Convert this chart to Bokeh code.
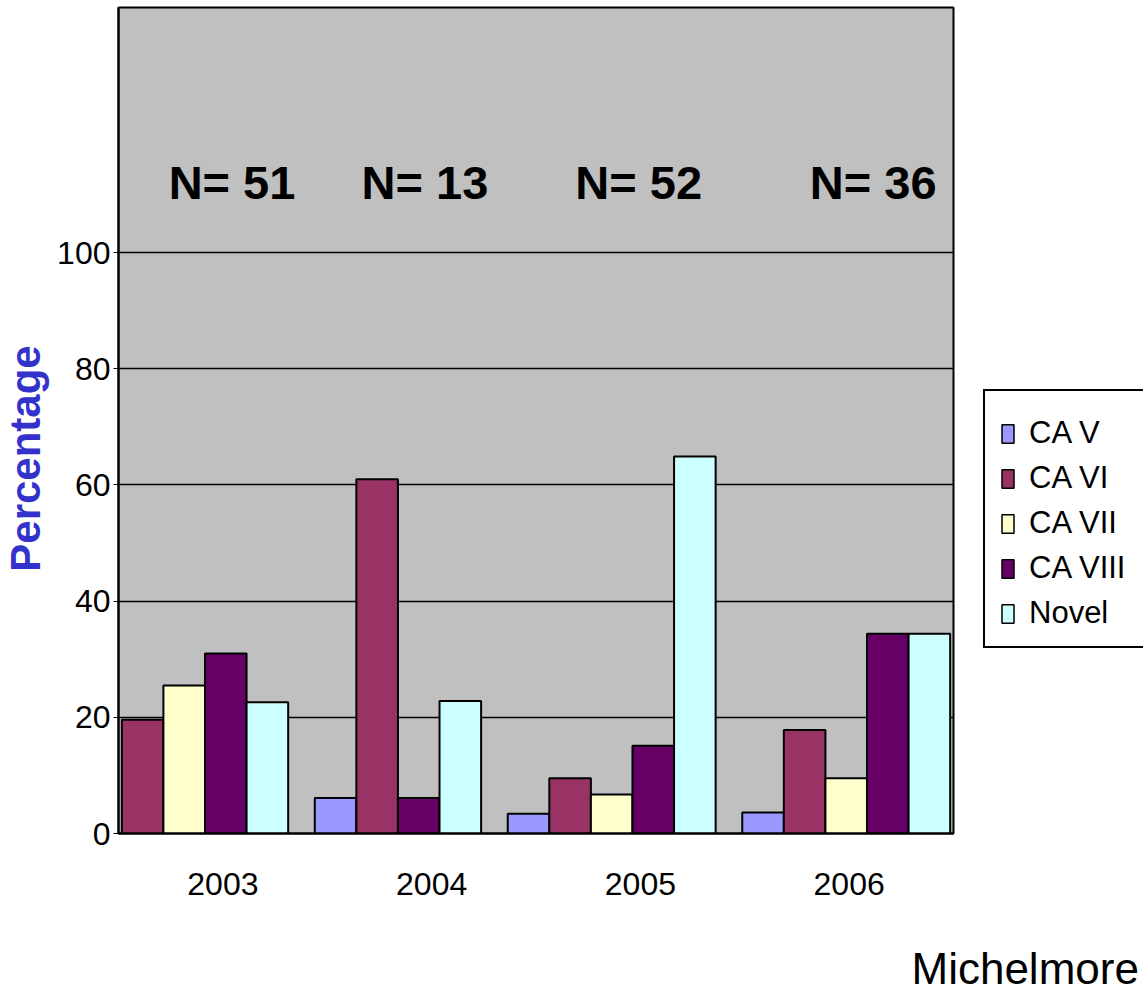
import math
from bokeh.plotting import figure
from bokeh.models import (FactorRange, Range1d, Legend, LegendItem, Label, FixedTicker,
                          CategoricalAxis)
from bokeh.layouts import row, column
from bokeh.core.properties import value
from bokeh.embed import file_html
from bokeh.resources import INLINE

# ---- data ----
years = ["2003", "2004", "2005", "2006"]
series = ["CA V", "CA VI", "CA VII", "CA VIII", "Novel"]
ca_v = [0, 6.1, 3.4, 3.6]
ca_vi = [19.6, 61.0, 9.5, 17.8]
ca_vii = [25.5, 0, 6.7, 9.5]
ca_viii = [31.0, 6.1, 15.1, 34.4]
novel = [22.6, 22.8, 64.9, 34.4]
n_counts = [51, 13, 52, 36]
y_ticks = [0, 20, 40, 60, 80, 100]
y_title = "Percentage"
source_note = "Michelmore"

colors = ["#9999FF", "#993366", "#FFFFCC", "#660066", "#CCFFFF"]
values = dict(zip(series, [ca_v, ca_vi, ca_vii, ca_viii, novel]))

FONT = "Liberation Sans"


def blank(width, height):
    f = figure(width=width, height=height, x_range=Range1d(0, 1), y_range=Range1d(0, 1),
               x_axis_location=None, y_axis_location=None, toolbar_location=None,
               output_backend="svg", min_border=0)
    f.outline_line_color = None
    f.background_fill_color = "white"
    f.border_fill_color = "white"
    f.xgrid.visible = False
    f.ygrid.visible = False
    return f


# ---- main chart ----
factors = [(y, s) for i, y in enumerate(years) for s in series if values[s][i] > 0]
x_range = FactorRange(*factors, group_padding=0.64, factor_padding=0.0,
                      range_padding=0.08, range_padding_units="absolute")

p = figure(x_range=x_range, y_range=Range1d(0, 142.2), width=905, height=940,
           output_backend="svg", toolbar_location=None, x_axis_location=None,
           min_border_left=68, min_border_right=2, min_border_top=7, min_border_bottom=107)
p.extra_x_ranges = {"years": FactorRange(*years, range_padding=0)}

p.background_fill_color = "#C0C0C0"
p.border_fill_color = "white"
p.outline_line_color = "black"
p.outline_line_width = 2

for s, c in zip(series, colors):
    xs = [(y, s) for i, y in enumerate(years) if values[s][i] > 0]
    tops = [values[s][i] for i in range(len(years)) if values[s][i] > 0]
    p.vbar(x=xs, top=tops, width=1.0, fill_color=c, line_color="black", line_width=2)

p.text(x=years, y=112, text=[f"N= {n}" for n in n_counts],
       text_font=value(FONT), text_font_style="bold", text_font_size="47px",
       text_align="center", text_baseline="middle", text_color="black", x_offset=27)

# grid
p.xgrid.visible = False
p.ygrid.ticker = FixedTicker(ticks=y_ticks[1:])
p.ygrid.grid_line_color = "black"
p.ygrid.grid_line_width = 1.5

# y axis
p.yaxis.ticker = FixedTicker(ticks=y_ticks)
p.yaxis.axis_line_color = "black"
p.yaxis.axis_line_width = 2
p.yaxis.major_tick_in = 0
p.yaxis.major_tick_out = 5
p.yaxis.major_tick_line_color = "black"
p.yaxis.minor_tick_line_color = None
p.yaxis.major_label_text_font = FONT
p.yaxis.major_label_text_font_size = "32px"
p.yaxis.major_label_text_color = "black"
p.yaxis.major_label_standoff = 3

# x axis (year labels)
xaxis = CategoricalAxis(x_range_name="years")
xaxis.axis_line_color = "black"
xaxis.axis_line_width = 2
xaxis.major_tick_in = 0
xaxis.major_tick_out = 0
xaxis.minor_tick_line_color = None
xaxis.major_label_standoff = 39
xaxis.major_label_text_font = FONT
xaxis.major_label_text_font_size = "32px"
xaxis.major_label_text_color = "black"
p.add_layout(xaxis, "below")

# ---- y title strip (left) ----
lab = blank(50, 940)
lab.add_layout(Label(x=25, y=375, x_units="screen", y_units="screen", text=y_title,
                     angle=math.pi / 2, text_align="center", text_baseline="middle",
                     text_font=FONT, text_font_size="42px", text_font_style="bold",
                     text_color="#3333CC"))

# ---- legend strip (right) ----
lf = blank(188, 940)
proxies = []
for c in colors:
    r = lf.vbar(x=[0.5], bottom=[0], top=[0], width=0.1, fill_color=c,
                line_color="black", line_width=1.5)
    r.visible = False
    proxies.append(r)
legend = Legend(items=[LegendItem(label=s, renderers=[r]) for s, r in zip(series, proxies)],
                location=(28, 185), margin=0,
                label_text_font=FONT, label_text_font_size="31px", label_text_color="black",
                glyph_width=15, glyph_height=23, label_height=23, label_width=135,
                label_standoff=14, padding=15, spacing=9,
                border_line_color="black", border_line_width=2, border_line_alpha=1.0,
                background_fill_color="white", background_fill_alpha=1.0,
                inactive_fill_alpha=0.0,
                title=" ", title_text_font_size="8px", title_standoff=0)
lf.add_layout(legend)

# ---- footer with the source note ----
ft = blank(1143, 45)
ft.add_layout(Label(x=911, y=17.5, x_units="screen", y_units="screen", text=source_note,
                    text_font=FONT, text_font_size="44px", text_color="black",
                    text_baseline="middle"))

layout = column(row(lab, p, lf), ft)
open("out.html", "w").write(file_html(layout, INLINE))
